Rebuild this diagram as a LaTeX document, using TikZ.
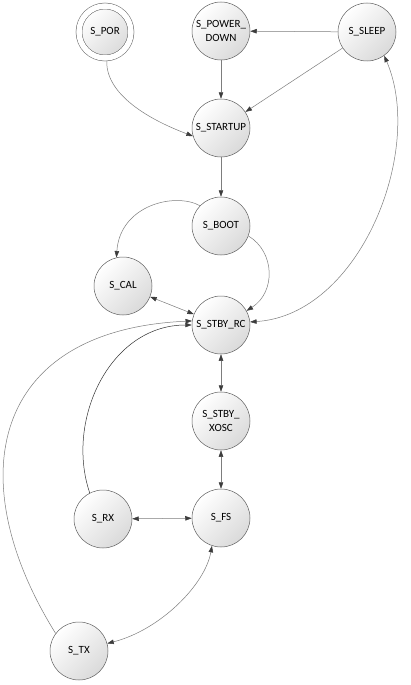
\documentclass[tikz,border=0pt]{standalone}
\usepackage{fontspec}
\setmainfont{Carlito}
\usetikzlibrary{arrows.meta}
\definecolor{edgecol}{RGB}{125,125,125}
\definecolor{tipcol}{RGB}{60,60,60}
\definecolor{bordercol}{RGB}{95,95,95}
\definecolor{fillbot}{RGB}{218,218,218}
\tikzset{
  state/.style={circle, draw=bordercol, line width=0.5pt, minimum size=58pt, inner sep=0pt,
    top color=white, bottom color=fillbot, shading angle=45, align=center,
    font=\fontsize{11}{13.5}\selectfont},
  startstate/.style={state, minimum size=52pt, double=white, double distance=5.5pt},
  conn/.style={draw=edgecol, line width=0.5pt, -{Triangle[length=6.5pt,width=4.5pt,fill=tipcol,color=tipcol]}},
  biconn/.style={conn, {Triangle[length=6.5pt,width=4.5pt,fill=tipcol,color=tipcol]}-{Triangle[length=6.5pt,width=4.5pt,fill=tipcol,color=tipcol]}},
  darkconn/.style={conn, draw=black!80}
}
\begin{document}
\begin{tikzpicture}[x=1pt,y=-1pt]
\fill[white] (0,0) rectangle (411,685);
\useasboundingbox (0,0) rectangle (411,685);
\node[startstate] (por) at (105,32) {S\_POR};
\node[state] (pd) at (221,31) {S\_POWER\_\\DOWN};
\node[state] (sleep) at (367,32) {S\_SLEEP};
\node[state] (startup) at (221,128) {S\_STARTUP};
\node[state] (boot) at (221,226) {S\_BOOT};
\node[state] (cal) at (123,286) {S\_CAL};
\node[state] (stbyrc) at (221,325) {S\_STBY\_RC};
\node[state] (xosc) at (221,421) {S\_STBY\_\\XOSC};
\node[state] (rx) at (103,519) {S\_RX};
\node[state] (fs) at (221,518) {S\_FS};
\node[state] (tx) at (79,651) {S\_TX};

\draw[conn, shorten <=3pt] (por.-86) .. controls (106,95) and (150,120) .. (startup.196);
\draw[conn] (sleep) -- (pd);
\draw[conn] (sleep) -- (startup);
\draw[conn] (pd) -- (startup);
\draw[conn] (startup) -- (boot);
\draw[conn] (boot.136) .. controls (175,192) and (120,205) .. (cal.103);
\draw[conn] (boot.-20) .. controls (275,252) and (276,292) .. (stbyrc.29);
\draw[biconn] (cal) -- (stbyrc);
\draw[biconn] (stbyrc.6) .. controls (360,315) and (425,150) .. (sleep.-54);
\draw[biconn] (stbyrc) -- (xosc);
\draw[biconn] (xosc) -- (fs);
\draw[biconn] (rx) -- (fs);
\draw[biconn] (fs.-108) .. controls (205,585) and (160,630) .. (tx.15);
\draw[darkconn] (rx.117) .. controls (65,420) and (110,325) .. (stbyrc.180);
\draw[conn] (tx.143) .. controls (-40,480) and (-10,330) .. (stbyrc.172);
\end{tikzpicture}
\end{document}
